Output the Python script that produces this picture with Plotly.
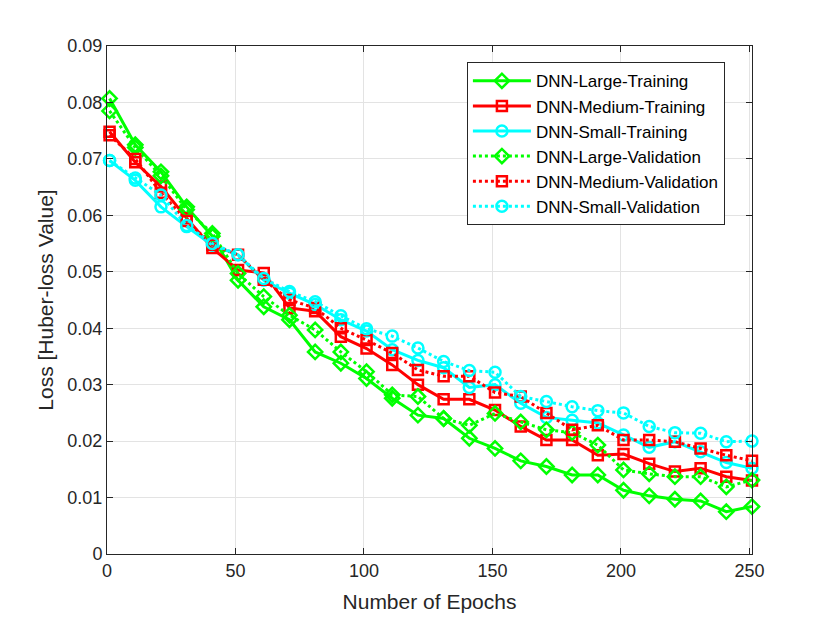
import plotly.graph_objects as go

epochs = list(range(1, 252, 10))

large_train = [0.0807, 0.0725, 0.0677, 0.0615, 0.0563, 0.0485, 0.0438, 0.0415, 0.0358, 0.0338,
               0.0311, 0.0276, 0.0246, 0.0240, 0.0205, 0.0187, 0.0165, 0.0155, 0.0140, 0.0140,
               0.0113, 0.0103, 0.0097, 0.0094, 0.0075, 0.0084]
medium_train = [0.0748, 0.0694, 0.0651, 0.0595, 0.0542, 0.0503, 0.0498, 0.0436, 0.0430, 0.0385,
                0.0364, 0.0335, 0.0300, 0.0274, 0.0274, 0.0255, 0.0226, 0.0202, 0.0202, 0.0175,
                0.0177, 0.0160, 0.0146, 0.0152, 0.0137, 0.0130]
small_train = [0.0697, 0.0662, 0.0615, 0.0580, 0.0547, 0.0530, 0.0485, 0.0462, 0.0442, 0.0415,
               0.0395, 0.0362, 0.0343, 0.0330, 0.0295, 0.0300, 0.0267, 0.0242, 0.0237, 0.0232,
               0.0211, 0.0189, 0.0199, 0.0181, 0.0162, 0.0152]
large_val = [0.0785, 0.0720, 0.0670, 0.0610, 0.0568, 0.0497, 0.0456, 0.0423, 0.0397, 0.0358,
             0.0323, 0.0282, 0.0279, 0.0240, 0.0228, 0.0249, 0.0234, 0.0220, 0.0215, 0.0193,
             0.0149, 0.0142, 0.0137, 0.0137, 0.0119, 0.0131]
medium_val = [0.0742, 0.0700, 0.0640, 0.0590, 0.0548, 0.0530, 0.0486, 0.0450, 0.0436, 0.0400,
              0.0379, 0.0356, 0.0326, 0.0315, 0.0315, 0.0286, 0.0279, 0.0250, 0.0220, 0.0228,
              0.0202, 0.0202, 0.0199, 0.0187, 0.0175, 0.0165]
small_val = [0.0697, 0.0666, 0.0636, 0.0582, 0.0550, 0.0530, 0.0488, 0.0465, 0.0447, 0.0422,
             0.0399, 0.0386, 0.0365, 0.0341, 0.0325, 0.0322, 0.0279, 0.0270, 0.0261, 0.0254,
             0.0250, 0.0226, 0.0215, 0.0214, 0.0199, 0.0200]

x_ticks = [0, 50, 100, 150, 200, 250]
y_ticks = [0, 0.01, 0.02, 0.03, 0.04, 0.05, 0.06, 0.07, 0.08, 0.09]
y_tick_text = ["0", "0.01", "0.02", "0.03", "0.04", "0.05", "0.06", "0.07", "0.08", "0.09"]

GREEN, RED, CYAN = "#00ff00", "#ff0000", "#00ffff"

series = [
    ("DNN-Large-Training", large_train, GREEN, "solid", "diamond-open", 11),
    ("DNN-Medium-Training", medium_train, RED, "solid", "square-open", 10),
    ("DNN-Small-Training", small_train, CYAN, "solid", "circle-open", 11),
    ("DNN-Large-Validation", large_val, GREEN, "dot", "diamond-open", 11),
    ("DNN-Medium-Validation", medium_val, RED, "dot", "square-open", 10),
    ("DNN-Small-Validation", small_val, CYAN, "dot", "circle-open", 11),
]

fig = go.Figure()
for name, vals, col, dash, sym, sz in series:
    fig.add_trace(go.Scatter(
        x=epochs, y=vals, name=name, mode="lines+markers",
        line=dict(color=col, width=3, dash=dash),
        marker=dict(symbol=sym, size=sz, color=col, line=dict(width=2.5, color=col)),
        cliponaxis=False,
    ))

FONT = "Liberation Sans, Arial"
axis_common = dict(
    showgrid=True, gridcolor="#e3e3e3", gridwidth=1,
    showline=True, linecolor="#262626", linewidth=1, mirror="ticks",
    ticks="inside", ticklen=6, tickcolor="#262626",
    tickfont=dict(family=FONT, size=18, color="#262626"),
    zeroline=False,
)

fig.update_layout(
    width=830, height=623,
    margin=dict(l=99, r=86, t=38, b=77),
    paper_bgcolor="white", plot_bgcolor="white",
    font=dict(family=FONT, color="#262626"),
    xaxis=dict(range=[0, 251], tickvals=x_ticks,
               title=dict(text="Number of Epochs", font=dict(family=FONT, size=21, color="#262626"), standoff=14),
               **axis_common),
    yaxis=dict(range=[0, 0.09], tickvals=y_ticks, ticktext=y_tick_text,
               title=dict(text="Loss [Huber-loss Value]", font=dict(family=FONT, size=21, color="#262626"), standoff=8),
               **axis_common),
    legend=dict(x=0.558, y=0.968, xanchor="left", yanchor="top",
                bgcolor="white", bordercolor="#262626", borderwidth=1,
                font=dict(family=FONT, size=17, color="#000000"),
                itemwidth=58, tracegroupgap=0),
    showlegend=True,
)

fig.write_html("out.html")
